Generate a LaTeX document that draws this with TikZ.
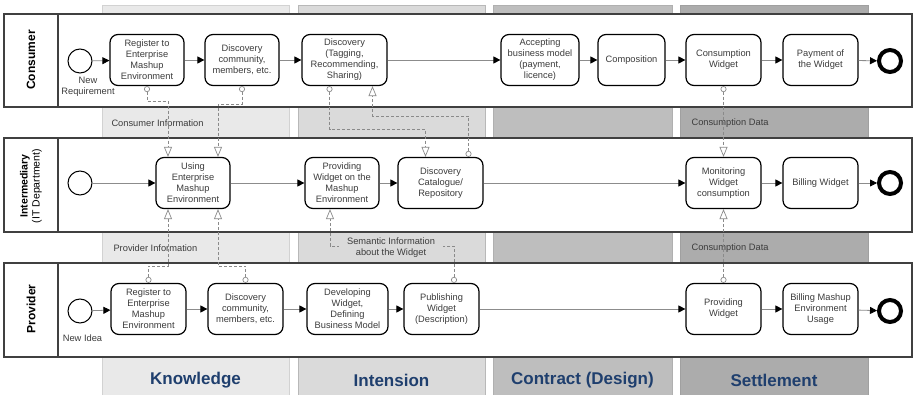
\documentclass[tikz,border=0pt]{standalone}
\usepackage{fontspec}
\setmainfont{Liberation Sans}
\usetikzlibrary{arrows.meta,calc}
\definecolor{colKf}{HTML}{E9E9E9}\definecolor{colKd}{HTML}{D2D2D2}
\definecolor{colIf}{HTML}{DADADA}\definecolor{colId}{HTML}{B8B8B8}
\definecolor{colCf}{HTML}{BEBEBE}\definecolor{colCd}{HTML}{B0B0B0}
\definecolor{colSf}{HTML}{ACACAC}\definecolor{colSd}{HTML}{A0A0A0}
\definecolor{lanegray}{HTML}{404040}
\definecolor{flowgray}{HTML}{8C8C8C}
\definecolor{msggray}{HTML}{8A8A8A}
\definecolor{txtgray}{HTML}{3C3C3C}
\definecolor{navy}{HTML}{1F3F6E}
\begin{document}
\begin{tikzpicture}[x=1pt,y=-1pt,
  phase/.style={line width=0.8pt},
  phaselabel/.style={font=\bfseries\fontsize{17}{20}\selectfont, text=navy},
  lane/.style={draw=lanegray, line width=1.4pt, fill=white},
  lanelabel/.style={rotate=90, align=center, text=black},
  box/.style={draw=black, line width=1.2pt, rounded corners=8pt, fill=white,
    minimum height=51pt, align=center, inner sep=1pt,
    font=\fontsize{9.3}{11}\selectfont, text=txtgray},
  startev/.style={circle, draw=black, line width=1pt, fill=white, minimum size=24pt, inner sep=0pt},
  endev/.style={circle, draw=black, line width=4pt, fill=white, minimum size=22pt, inner sep=0pt},
  gaplabel/.style={font=\fontsize{9.3}{11}\selectfont, text=txtgray, align=center},
  flow/.style={draw=flowgray, line width=0.8pt, -{Triangle[length=7pt,width=7pt,color=black,fill=black]}},
  msg/.style={draw=msggray, line width=0.7pt, dash pattern=on 3pt off 2pt,
    {Circle[open,length=6pt,width=6pt,fill=white]}-{Triangle[open,length=10pt,width=8pt,fill=white]}}
]
\useasboundingbox (0,0) rectangle (913,395);
% phase columns
\draw[phase, fill=colKf, draw=colKd] (102,5) rectangle (289,396);
\draw[phase, fill=colIf, draw=colId] (298,5) rectangle (485,396);
\draw[phase, fill=colCf, draw=colCd] (493,5) rectangle (672,396);
\draw[phase, fill=colSf, draw=colSd] (680,5) rectangle (868,396);
\node[phaselabel] (phK) at (195.5,380) {Knowledge};
\node[phaselabel] (phI) at (391.5,380) {Intension};
\node[phaselabel] (phC) at (582.5,380) {Contract (Design)};
\node[phaselabel] (phS) at (774,380) {Settlement};
% lanes
\draw[lane] (4,14) rectangle (912,107); \draw[lane] (58,14) -- (58,107);
\draw[lane] (4,138) rectangle (912,232); \draw[lane] (58,138) -- (58,232);
\draw[lane] (4,263) rectangle (912,357); \draw[lane] (58,263) -- (58,357);
\node[lanelabel, font=\bfseries\fontsize{12}{14}\selectfont] (lC) at (31,60) {Consumer};
\node[lanelabel, font=\fontsize{10.5}{12}\selectfont] (lI) at (31,186) {\textbf{Intermediary}\\(IT Department)};
\node[lanelabel, font=\bfseries\fontsize{12}{14}\selectfont] (lP) at (31,309) {Provider};
% gap labels
\node[gaplabel, anchor=west] (tCI) at (108,123) {Consumer Information};
\node[gaplabel, anchor=west] (tPI) at (110,248) {Provider Information};
\node[gaplabel, anchor=west] (tCD1) at (688,123) {Consumption Data};
\node[gaplabel, anchor=west] (tCD2) at (688,248) {Consumption Data};
% consumer lane
\node[startev] (cS) at (80,61) {};
\node[gaplabel] (cSl) at (88,86.5) {New\\Requirement};
\node[box, minimum width=74pt] (cReg) at (147,60) {Register to\\Enterprise\\Mashup\\Environment};
\node[box, minimum width=74pt] (cDC) at (242,60) {Discovery\\community,\\members, etc.};
\node[box, minimum width=85pt] (cDisc) at (344.5,60) {Discovery\\(Tagging,\\Recommending,\\Sharing)};
\node[box, minimum width=78pt] (cAcc) at (540,60) {Accepting\\business model\\(payment,\\licence)};
\node[box, minimum width=67pt] (cComp) at (631.5,60) {Composition};
\node[box, minimum width=75pt] (cCons) at (723.5,60) {Consumption\\Widget};
\node[box, minimum width=75pt] (cPay) at (820.5,60) {Payment of\\the Widget};
\node[endev] (cE) at (890,61) {};
% intermediary lane
\node[startev] (iS) at (80,183) {};
\node[box, minimum width=74pt] (iUse) at (193,183) {Using\\Enterprise\\Mashup\\Environment};
\node[box, minimum width=74pt] (iProv) at (342,183) {Providing\\Widget on the\\Mashup\\Environment};
\node[box, minimum width=85pt] (iCat) at (440.5,183) {Discovery\\Catalogue/\\Repository};
\node[box, minimum width=75pt] (iMon) at (723.5,183) {Monitoring\\Widget\\consumption};
\node[box, minimum width=75pt] (iBill) at (820.5,183) {Billing Widget};
\node[endev] (iE) at (890,183) {};
% provider lane
\node[startev] (pS) at (80,311) {};
\node[gaplabel] (pSl) at (82.5,338) {New Idea};
\node[box, minimum width=75pt] (pReg) at (148.5,309) {Register to\\Enterprise\\Mashup\\Environment};
\node[box, minimum width=75pt] (pDC) at (245.5,309) {Discovery\\community,\\members, etc.};
\node[box, minimum width=81pt] (pDev) at (347.5,309) {Developing\\Widget,\\Defining\\Business Model};
\node[box, minimum width=75pt] (pPub) at (441.5,309) {Publishing\\Widget\\(Description)};
\node[box, minimum width=75pt] (pProv) at (723.5,309) {Providing\\Widget};
\node[box, minimum width=75pt] (pBill) at (820.5,309) {Billing Mashup\\Environment\\Usage};
\node[endev] (pE) at (890,311) {};
% sequence flows
\draw[flow] (cS) -- (cReg);
\draw[flow] (cReg) -- (cDC);
\draw[flow] (cDC) -- (cDisc);
\draw[flow] (cDisc) -- (cAcc);
\draw[flow] (cAcc) -- (cComp);
\draw[flow] (cComp) -- (cCons);
\draw[flow] (cCons) -- (cPay);
\draw[flow] (cPay) -- (cE);
\draw[flow] (iS) -- (iUse);
\draw[flow] (iUse) -- (iProv);
\draw[flow] (iProv) -- (iCat);
\draw[flow] (iCat) -- (iMon);
\draw[flow] (iMon) -- (iBill);
\draw[flow] (iBill) -- (iE);
\draw[flow] (pS) -- (pReg);
\draw[flow] (pReg) -- (pDC);
\draw[flow] (pDC) -- (pDev);
\draw[flow] (pDev) -- (pPub);
\draw[flow] (pPub) -- (pProv);
\draw[flow] (pProv) -- (pBill);
\draw[flow] (pBill) -- (pE);
% message flows
\draw[msg] (cReg.south) -- ++(0,15) -| ($(iUse.north)+(-25,0)$);
\draw[msg] (cDC.south) -- ++(0,18) -| ($(iUse.north)+(25,0)$);
\draw[msg] ($(cDisc.south)+(-15,0)$) -- ++(0,43) -| ($(iCat.north)+(-15,0)$);
\draw[msg] ($(iCat.north)+(28,0)$) -- ++(0,-41) -| ($(cDisc.south)+(28,0)$);
\draw[msg] (cCons.south) -- (iMon.north);
\draw[msg] (pProv.north) -- (iMon.south);
\draw[msg] (pReg.north) -- ++(0,-17) -| ($(iUse.south)+(-25,0)$);
\draw[msg] (pDC.north) -- ++(0,-17) -| ($(iUse.south)+(25,0)$);
\draw[msg] ($(pPub.north)+(12.5,0)$) -- ++(0,-37) -| ($(iProv.south)+(-12,0)$);
\node[gaplabel, fill=colIf, inner xsep=8pt, inner ysep=1pt] (tSI) at (391,247.5) {Semantic Information\\about the Widget};
\end{tikzpicture}
\end{document}
